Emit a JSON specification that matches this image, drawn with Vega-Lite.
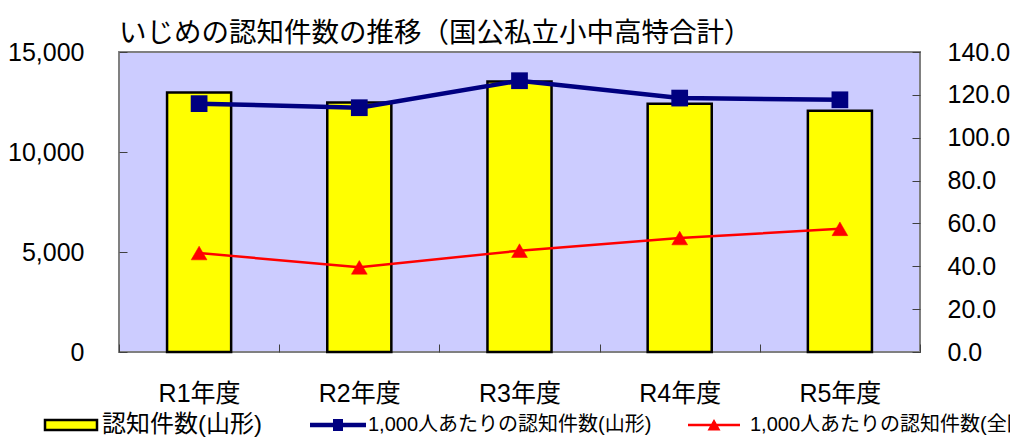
{
  "$schema": "https://vega.github.io/schema/vega-lite/v6.json",
  "width": 801,
  "height": 300,
  "autosize": "none",
  "padding": {"left": 119, "top": 52, "right": 90, "bottom": 85},
  "background": "white",
  "title": {
    "text": "いじめの認知件数の推移（国公私立小中高特合計）",
    "anchor": "start",
    "frame": "group",
    "font": "Noto Sans CJK JP",
    "fontSize": 27.5,
    "fontWeight": "normal",
    "color": "#000",
    "offset": -7
  },
  "data": {
    "values": [
      {"年度": "R1年度", "認知件数": 12980, "山形": 115.9, "全国": 46.2},
      {"年度": "R2年度", "認知件数": 12480, "山形": 114.0, "全国": 39.5},
      {"年度": "R3年度", "認知件数": 13530, "山形": 126.6, "全国": 47.3},
      {"年度": "R4年度", "認知件数": 12415, "山形": 118.5, "全国": 53.2},
      {"年度": "R5年度", "認知件数": 12065, "山形": 117.7, "全国": 57.5}
    ]
  },
  "encoding": {
    "x": {
      "field": "年度",
      "type": "nominal",
      "sort": null,
      "scale": {"paddingInner": 0, "paddingOuter": 0},
      "axis": {
        "title": null,
        "domain": false,
        "tickBand": "extent",
        "tickSize": -8,
        "tickColor": "#404040",
        "tickWidth": 1,
        "labelAngle": 0,
        "labelFont": "Liberation Sans, Noto Sans CJK JP",
        "labelFontSize": 25,
        "labelColor": "#000",
        "labelPadding": 37
      }
    }
  },
  "layer": [
    {
      "mark": {"type": "bar", "width": {"band": 0.4}, "stroke": "#000", "strokeWidth": 2.5},
      "encoding": {
        "y": {
          "field": "認知件数",
          "type": "quantitative",
          "scale": {"domain": [0, 15000], "nice": false},
          "axis": {
            "orient": "left",
            "values": [0, 5000, 10000, 15000],
            "format": ",.0f",
            "title": null,
            "domain": false,
            "grid": false,
            "tickSize": -8,
            "tickColor": "#404040",
            "tickWidth": 1,
            "labelFont": "Liberation Sans",
            "labelFontSize": 25,
            "labelColor": "#000",
            "labelPadding": 43,
            "labelFlush": false,
            "labelOverlap": false
          }
        },
        "fill": {
          "datum": "認知件数(山形)",
          "type": "nominal",
          "scale": {"range": ["#FFFF00"]},
          "legend": {
            "orient": "none",
            "legendX": -74,
            "legendY": 361,
            "title": null,
            "padding": 0,
            "labelFont": "Liberation Sans, Noto Sans CJK JP",
            "labelFontSize": 24,
            "labelColor": "#000",
            "labelLimit": 0,
            "symbolType": "M-5.2,-1H5.2V1H-5.2Z",
            "symbolSize": 100,
            "symbolStrokeColor": "#000",
            "symbolStrokeWidth": 2.5,
            "symbolOpacity": 1,
            "symbolOffset": 14,
            "labelOffset": 19
          }
        }
      }
    },
    {
      "layer": [
        {
          "mark": {"type": "line", "stroke": "#000080", "strokeWidth": 4.5},
          "encoding": {
            "y": {
              "field": "山形",
              "type": "quantitative",
              "scale": {"domain": [0, 140], "nice": false},
              "axis": {
                "orient": "right",
                "values": [0, 20, 40, 60, 80, 100, 120, 140],
                "format": ".1f",
                "title": null,
                "domain": false,
                "grid": false,
                "tickSize": -8,
                "tickColor": "#404040",
                "tickWidth": 1,
                "labelFont": "Liberation Sans",
                "labelFontSize": 25,
                "labelColor": "#000",
                "labelPadding": 35,
                "labelFlush": false,
                "labelOverlap": false
              }
            }
          }
        },
        {
          "mark": {"type": "point", "shape": "square", "filled": true, "size": 280, "opacity": 1},
          "encoding": {
            "y": {"field": "山形", "type": "quantitative"},
            "color": {
              "datum": "1,000人あたりの認知件数(山形)",
              "type": "nominal",
              "scale": {"range": ["#000080"]},
              "legend": {
                "orient": "none",
                "legendX": 191,
                "legendY": 363,
                "title": null,
                "padding": 0,
                "labelFont": "Liberation Sans, Noto Sans CJK JP",
                "labelFontSize": 20,
                "labelColor": "#000",
                "labelLimit": 0,
                "symbolType": "M-5.6,-0.45H5.6V0.45H-5.6Z M-1,-1.2H1V1.2H-1Z",
                "symbolSize": 100,
                "symbolFillColor": "#000080",
                "symbolStrokeWidth": 0,
                "symbolOpacity": 1,
                "symbolOffset": 18,
                "labelOffset": 20
              }
            }
          }
        },
        {
          "mark": {"type": "line", "stroke": "#FF0000", "strokeWidth": 2.5},
          "encoding": {
            "y": {"field": "全国", "type": "quantitative"}
          }
        },
        {
          "mark": {"type": "point", "shape": "triangle-up", "filled": true, "fill": "#FF0000", "strokeWidth": 0.5, "size": 250, "opacity": 1},
          "encoding": {
            "y": {"field": "全国", "type": "quantitative"},
            "stroke": {
              "datum": "1,000人あたりの認知件数(全国)",
              "type": "nominal",
              "scale": {"range": ["#FF0000"]},
              "legend": {
                "orient": "none",
                "legendX": 569,
                "legendY": 363,
                "title": null,
                "padding": 0,
                "labelFont": "Liberation Sans, Noto Sans CJK JP",
                "labelFontSize": 20,
                "labelColor": "#000",
                "labelLimit": 0,
                "symbolType": "M-5.2,-0.24H5.2V0.24H-5.2Z M-1.3,1.1L0,-1.2L1.3,1.1Z",
                "symbolSize": 100,
                "symbolFillColor": "#FF0000",
                "symbolStrokeWidth": 0,
                "symbolOpacity": 1,
                "symbolOffset": 16,
                "labelOffset": 26
              }
            }
          }
        }
      ]
    }
  ],
  "resolve": {"scale": {"y": "independent"}},
  "config": {
    "view": {"fill": "#CCCCFF", "stroke": "#808080", "strokeWidth": 2}
  }
}
